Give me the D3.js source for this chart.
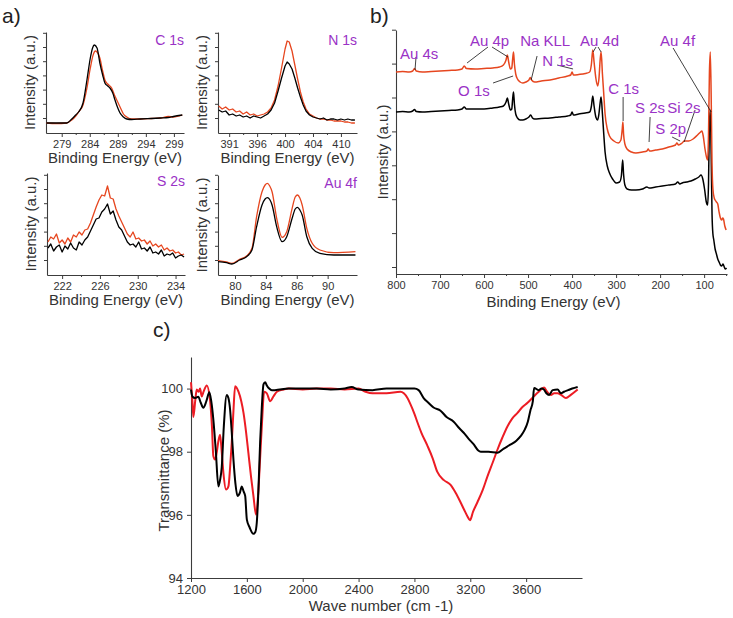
<!DOCTYPE html>
<html><head><meta charset="utf-8">
<script src="https://cdn.jsdelivr.net/npm/d3@7"></script>
<style>
body{margin:0;background:#fff;}
svg text{font-family:"Liberation Sans",Arial,Helvetica,sans-serif;}
</style></head><body>
<svg id="chart" width="733" height="618"></svg>
<script>
// ---------------- DATA ----------------
// a) C 1s
const c1sEnergyBlack = [276.3,278,279.9,280.8,281.5,282,282.8,283.5,284.1,284.5,284.8,285.3,285.8,286.3,286.7,287.2,287.6,288.1,288.5,289,289.4,290,290.6,291.5,293,295,296.6,298,298.9,300.5];
const c1sBlack       = [10,10,10,14,18,21,30,53,75,85,88,85,70,58,50,47,45,40,33,25,20,16,14,13.5,14,14.5,15,15.5,16.5,18];
const c1sEnergyRed   = [276.3,278,279.9,280.8,281.5,282,282.8,283.5,284.1,284.6,285.0,285.3,285.8,286.3,286.7,287.2,287.9,288.4,288.9,289.4,290,290.6,291.5,293,295,296.6,298,298.9,300.5];
const c1sRed         = [10,9.5,10,13,17,21,28,45,65,78,82,81,75,62,53,49,45,38,32,26,19,16,14,14,14.5,15,16.5,16,18];
const c1sTicks = [279,284,289,294,299];
const c1sTickLabels = ["279","284","289","294","299"];

// a) N 1s
const n1sEnergy = [390.5,391,391.5,392,392.5,393,393.5,394,394.5,395,395.5,396,396.5,397,397.5,398,398.5,399,399.5,400,400.3,400.6,401,401.4,401.8,402.2,402.6,403,403.5,404,404.5,405,405.5,406,406.5,407,407.5,408,408.5,409,409.5,410];
const n1sBlack  = [23,21,22,18,19,17,18,16,17,15,17,16,15,17,19,23,30,42,55,67,71,69,64,55,45,36,28,22,18,16,15,14,15,13,14,14,13,14,13,14,13,13];
const n1sRed    = [27,24,26,23,24,21,22,19,21,18,19,17,18,19,21,25,33,47,65,84,92,91,82,68,54,41,31,24,19,17,15,14,14,13,13,12,12,12,11,11,10,10];
const n1sTicks = [392,396,400,404,408];
const n1sTickLabels = ["391","396","400","404","410"];

// a) S 2s
const s2sEnergy = [220.5,220.8,221.1,221.4,221.7,222.0,222.3,222.6,222.9,223.2,223.5,223.8,224.1,224.4,224.7,225.0,225.3,225.6,225.9,226.2,226.5,226.8,227.1,227.4,227.7,228.0,228.3,228.6,228.9,229.2,229.5,229.8,230.1,230.4,230.7,231.0,231.3,231.6,231.9,232.2,232.5,232.8,233.1,233.4,233.7,234.0,234.3,234.6,234.9];
const s2sBlack  = [27,31,24,28,30,23,29,26,32,27,25,33,30,35,38,44,50,56,57,63,66,71,61,64,55,48,45,39,33,30,31,28,33,26,27,24,28,22,23,21,25,19,21,20,22,17,19,20,18];
const s2sRed    = [33,38,36,41,32,35,31,37,33,40,38,43,40,45,46,52,60,68,75,80,79,89,77,76,66,59,53,47,41,38,43,36,37,34,35,31,34,29,31,28,30,25,27,24,25,22,23,20,21];
const s2sTicks = [222,226,230,234];
const s2sTickLabels = ["222","226","230","234"];

// a) Au 4f
const au4fEnergy = [77.8,78.9,79.6,80.6,81.5,82.2,82.8,83.5,83.9,84.2,84.5,84.8,85.4,86.1,86.7,87.4,87.8,88.1,88.4,88.7,89.3,90,91,92.8,95.6];
const au4fBlack  = [13.3,12.3,11,15,18.3,25,48.3,70,76,77.3,75.5,70,48.3,33.3,38.3,56.7,66,67.7,65,60,38.3,26.7,21.7,20,20];
const au4fRed    = [14.3,13,11.7,15.7,19,26.7,58.3,83.3,90,91.7,89,83.3,56.7,37.7,43.3,66.7,78,80,77,70,46.7,31.7,25,22.3,23.3];
const au4fTicks = [80,84,88,92];
const au4fTickLabels = ["80","84","86","90"];

// b) survey spectra  [binding energy, intensity]
const surveyRed = [[800,202],[785,202.5],[770,202],[762,203],[758,205.5],[754,203],[740,202],[720,202.5],[700,203],[680,203.5],[660,204],[650,205],[645,208],[640,205.5],[620,205],[600,205.5],[580,206],[565,207],[556,209],[550,214],[547,219],[544,212],[540,205],[537,206],[535,215],[533,222],[531,210],[528,200],[524,195],[518,192],[512,191],[505,192],[498,194],[495,196.5],[492,194],[485,192],[470,193],[450,194],[430,196],[410,198],[403,199],[400,202],[397,199],[385,199.5],[370,200.5],[360,202],[356,210],[353,224],[350,212],[346,196],[342,188],[339,195],[336,215],[334,222],[331,200],[328,180],[325,160],[320,145],[315,138],[305,133],[295,131],[289,134],[286,145],[284.5,152],[283,140],[280,130],[275,125],[265,122],[255,121],[240,122],[230,123],[227,125],[224,123],[210,124],[195,125],[180,127],[165,129],[162,131],[158,129],[150,131],[145,133],[135,133],[125,135],[115,139],[108,142],[105,143],[102,138],[98,125],[94,116],[92,114],[90,140],[88,200],[86,222],[84,180],[82,110],[80,85],[77,76],[75,74],[72,72],[69,70],[66,62],[63,56],[60,54],[58,56],[56,55],[53,48],[50,44]];
const surveyBlack = [[800,162],[785,162.5],[770,162],[762,163],[758,164.5],[754,162.5],[740,162],[720,162.5],[700,163],[680,163.5],[660,164],[650,165],[645,167],[640,165],[620,165],[600,165],[580,166],[565,167],[556,168],[550,172],[547,176],[544,170],[540,164],[537,165],[535,175],[533,182],[531,170],[528,160],[524,156],[518,154],[512,154],[505,155],[498,157],[494,159],[490,156],[485,155],[470,155.5],[450,156],[430,157],[410,158],[403,159],[400,162],[397,159],[385,160],[370,161],[360,162],[356,168],[353,178],[350,168],[346,157],[342,154],[339,160],[336,172],[334,177],[331,160],[328,140],[325,122],[320,108],[315,101],[308,95],[300,91],[292,92],[288,98],[285,114],[283,100],[280,89],[275,85],[265,84],[255,84],[240,85],[230,87],[225,86],[210,87],[195,88],[180,89],[165,90],[160,92],[155,90],[150,91],[140,92],[130,93],[120,95],[112,97],[107,99],[103,95],[99,85],[95,72],[92,69],[90,90],[88,150],[86,164],[84,120],[82,60],[80,40],[78,34],[75,25],[72,20],[69,15],[66,12],[63,9],[60,8],[57,10],[55,8],[52,5],[49,6]];
const surveyTicks = [800,700,600,500,400,300,200,100];
const surveyLabels = ["Au 4s","Au 4p","Na KLL","Au 4d","N 1s","O 1s","C 1s","S 2s","Si 2s","S 2p","Au 4f"];
// text anchor (E, I) for each label, and leader lines [E1,I1,E2,I2]
const surveyLabelAt = [[791,215],[632,228],[518,228],[382,228],[468,208],[659,178],[318,180],[257,161],[184,161],[211,140],[200,228]];
const surveyLeaders = [
  [[754.5,217,756.8,204]],
  [[591,227,638.6,211],[581.8,227,545.5,217]],
  [[479.5,218,493,194]],
  [[345.5,227,352.3,222],[341,227,334,222]],
  [[434,209,397.7,205]],
  [[579.5,191,534,198]],
  [[284,177,284,153]],
  [[222.7,157,225,132]],
  [[120.5,164,145.5,132]],
  [[172.7,137,154.5,133]],
  [[170.5,226,84,162]]
];

// c) FTIR
const irRed = [[1200,100.2],[1210,99.6],[1217,99.1],[1230,99.6],[1241,99.97],[1255,99.9],[1265,100.0],[1277,99.75],[1290,99.9],[1313,100.1],[1336,99.65],[1350,98.8],[1360,97.86],[1372,97.75],[1385,98.0],[1396,98.33],[1408,98.54],[1420,98.0],[1432,97.33],[1451,96.8],[1468,96.9],[1480,97.5],[1492,98.3],[1504,99.3],[1516,100.07],[1540,99.9],[1560,99.6],[1576,99.23],[1595,98.6],[1611,97.96],[1630,97.2],[1647,96.6],[1666,96.0],[1683,96.8],[1695,97.8],[1707,98.8],[1724,99.9],[1743,99.85],[1767,99.6],[1790,99.75],[1815,99.9],[1863,99.97],[1900,100.0],[2000,99.97],[2100,100.0],[2200,100.0],[2300,99.97],[2400,100.0],[2450,99.9],[2500,99.85],[2600,99.85],[2700,99.9],[2724,99.85],[2750,99.7],[2772,99.5],[2800,99.2],[2820,98.95],[2850,98.6],[2892,98.2],[2930,97.8],[2964,97.36],[3011,97.1],[3059,96.95],[3095,96.7],[3130,96.4],[3155,96.17],[3180,95.95],[3198,95.83],[3220,96.1],[3251,96.4],[3290,96.8],[3323,97.22],[3360,97.65],[3395,98.07],[3430,98.45],[3466,98.8],[3500,99.05],[3538,99.23],[3570,99.4],[3610,99.55],[3657,99.76],[3690,99.9],[3729,100.03],[3750,99.9],[3777,99.8],[3800,99.85],[3825,99.85],[3850,99.8],[3885,99.7],[3920,99.8],[3969,99.97]];
const irBlack = [[1200,99.97],[1210,99.75],[1230,99.7],[1252,99.74],[1270,99.55],[1288,99.39],[1310,99.6],[1331,99.88],[1345,99.6],[1360,99.02],[1378,98.0],[1396,96.9],[1408,97.1],[1420,97.5],[1435,98.8],[1456,99.8],[1468,99.7],[1480,99.33],[1492,98.6],[1504,97.75],[1518,97.0],[1533,96.6],[1550,96.7],[1564,96.9],[1576,96.75],[1588,96.6],[1600,95.85],[1620,95.6],[1647,95.4],[1660,95.45],[1671,95.75],[1683,96.8],[1695,98.3],[1707,99.4],[1719,100.13],[1731,100.2],[1743,100.1],[1760,100.0],[1779,99.95],[1800,99.95],[1900,100.0],[2000,100.0],[2100,100.0],[2200,99.97],[2300,100.0],[2350,100.05],[2400,99.97],[2500,99.95],[2600,100.0],[2700,100.0],[2800,100.0],[2830,99.95],[2866,99.7],[2900,99.55],[2937,99.4],[2987,99.3],[3030,99.1],[3081,98.95],[3120,98.75],[3153,98.6],[3190,98.4],[3225,98.23],[3255,98.05],[3275,98.0],[3330,98.0],[3396,97.97],[3440,98.1],[3490,98.23],[3530,98.35],[3562,98.5],[3590,98.7],[3612,98.95],[3630,99.3],[3648,99.6],[3657,100.02],[3690,99.95],[3710,100.0],[3727,99.97],[3745,99.85],[3765,99.8],[3790,99.95],[3825,99.97],[3850,99.85],[3871,99.9],[3900,99.95],[3930,100.0],[3969,100.05]];
const irXTicks = [1200,1600,2000,2400,2800,3200,3600];
const irYTicks = [94,96,98,100];

// ---------------- DRAWING ----------------
const FONT = '"Liberation Sans", Arial, Helvetica, sans-serif';
const AX = "#3c3c3c";
const TXT = "#333";
const PURPLE = "#9a32c6";
const XPS_RED = "#e6461f";
const IR_RED = "#ec1c24";
const svg = d3.select("#chart");

function styleAxis(g, fs){
  g.attr("font-family", FONT);
  g.selectAll("path.domain").attr("stroke", AX).attr("stroke-width", 1.1);
  g.selectAll(".tick line").attr("stroke", AX);
  g.selectAll("text").attr("font-size", fs).attr("fill", TXT);
}

function xpsPanel(cfg){
  const x = d3.scaleLinear().domain(cfg.xDomain).range([cfg.left, cfg.right]);
  const y = d3.scaleLinear().domain(cfg.yDomain).range([cfg.bottom, cfg.top]);
  const g = svg.append("g");
  const minor = [];
  for (let i = 0; i < cfg.ticks.length - 1; i++) minor.push((cfg.ticks[i] + cfg.ticks[i+1]) / 2);
  g.append("g").attr("transform", `translate(0,${cfg.bottom})`)
    .call(d3.axisBottom(x).tickValues(minor).tickFormat("").tickSize(2).tickSizeOuter(0))
    .call(s => s.select(".domain").remove()).call(s => styleAxis(s, 11));
  g.append("g").attr("transform", `translate(0,${cfg.bottom})`)
    .call(d3.axisBottom(x).tickValues(cfg.ticks).tickFormat((d,i) => cfg.labels[i]).tickSize(4).tickSizeOuter(0).tickPadding(3))
    .call(s => styleAxis(s, 11));
  g.append("g").attr("transform", `translate(${cfg.left},0)`)
    .call(d3.axisLeft(y).tickValues(d3.range(cfg.yDomain[0] + 15, cfg.yDomain[1] + 0.5, 14.2)).tickFormat("").tickSize(3).tickSizeOuter(0))
    .call(s => styleAxis(s, 11));
  const curve = cfg.noisy ? d3.curveLinear : d3.curveMonotoneX;
  cfg.series.forEach(sr => {
    const pts = sr.e.map((e,i) => [e, sr.v[i]]);
    g.append("path").datum(pts)
      .attr("fill", "none").attr("stroke", sr.color).attr("stroke-width", 1.3)
      .attr("stroke-linejoin", "round")
      .attr("d", d3.line().x(d => x(d[0])).y(d => y(d[1])).curve(curve));
  });
  g.append("text").attr("x", cfg.right).attr("y", cfg.top + 13).attr("text-anchor", "end")
    .attr("font-size", 14).attr("fill", PURPLE).attr("font-family", FONT).text(cfg.title);
  g.append("text").attr("x", (cfg.left + cfg.right) / 2).attr("y", cfg.bottom + 30)
    .attr("text-anchor", "middle").attr("font-size", 15).attr("fill", TXT).attr("font-family", FONT)
    .text("Binding Energy (eV)");
  g.append("text").attr("transform", `translate(${cfg.left - 11},${(cfg.top + cfg.bottom) / 2}) rotate(-90)`)
    .attr("text-anchor", "middle").attr("font-size", 15).attr("fill", TXT).attr("font-family", FONT)
    .text("Intensity (a.u.)");
}

// panel labels
svg.append("text").attr("x", 2).attr("y", 23).attr("font-size", 21).attr("fill", "#222").attr("font-family", FONT).text("a)");
svg.append("text").attr("x", 370).attr("y", 23).attr("font-size", 21).attr("fill", "#222").attr("font-family", FONT).text("b)");
svg.append("text").attr("x", 153).attr("y", 337).attr("font-size", 21).attr("fill", "#222").attr("font-family", FONT).text("c)");

xpsPanel({left:46, right:184, top:32, bottom:133, xDomain:[276.2,300.8], yDomain:[0,101],
  ticks:c1sTicks, labels:c1sTickLabels, title:"C 1s",
  series:[{e:c1sEnergyRed, v:c1sRed, color:XPS_RED},{e:c1sEnergyBlack, v:c1sBlack, color:"#000"}]});
xpsPanel({left:218, right:357, top:32, bottom:133, xDomain:[390.4,410.3], yDomain:[0,101],
  ticks:n1sTicks, labels:n1sTickLabels, title:"N 1s", noisy:true,
  series:[{e:n1sEnergy, v:n1sRed, color:XPS_RED},{e:n1sEnergy, v:n1sBlack, color:"#000"}]});
xpsPanel({left:47, right:185, top:173, bottom:275, xDomain:[220.4,235], yDomain:[0,102],
  ticks:s2sTicks, labels:s2sTickLabels, title:"S 2s", noisy:true,
  series:[{e:s2sEnergy, v:s2sRed, color:XPS_RED},{e:s2sEnergy, v:s2sBlack, color:"#000"}]});
xpsPanel({left:218, right:357, top:175, bottom:275, xDomain:[77.8,95.8], yDomain:[0,100],
  ticks:au4fTicks, labels:au4fTickLabels, title:"Au 4f",
  series:[{e:au4fEnergy, v:au4fRed, color:XPS_RED},{e:au4fEnergy, v:au4fBlack, color:"#000"}]});

// ---- b) survey ----
(function(){
  const L = 396, R = 727, T = 30, B = 274;
  const x = d3.scaleLinear().domain([800,48]).range([L,R]);
  const y = d3.scaleLinear().domain([0,244]).range([B,T]);
  const g = svg.append("g");
  const minor = surveyTicks.map(t => t - 50).filter(t => t > 48);
  g.append("g").attr("transform", `translate(0,${B})`)
    .call(d3.axisBottom(x).tickValues(minor).tickFormat("").tickSize(2).tickSizeOuter(0))
    .call(s => s.select(".domain").remove()).call(s => styleAxis(s, 11));
  g.append("g").attr("transform", `translate(0,${B})`)
    .call(d3.axisBottom(x).tickValues(surveyTicks).tickFormat(d3.format("d")).tickSize(4).tickSizeOuter(0).tickPadding(3))
    .call(s => styleAxis(s, 11));
  g.append("g").attr("transform", `translate(${L},0)`)
    .call(d3.axisLeft(y).tickValues(d3.range(7, 245, 33.9)).tickFormat("").tickSize(4).tickSizeOuter(0))
    .call(s => styleAxis(s, 11));
  const line = d3.line().x(d => x(d[0])).y(d => y(d[1])).curve(d3.curveMonotoneX);
  g.append("path").datum(surveyBlack).attr("fill","none").attr("stroke","#000").attr("stroke-width",1.5).attr("d", line);
  g.append("path").datum(surveyRed).attr("fill","none").attr("stroke",XPS_RED).attr("stroke-width",1.5).attr("d", line);
  surveyLeaders.forEach(ls => ls.forEach(l => {
    g.append("line").attr("x1", x(l[0])).attr("y1", y(l[1])).attr("x2", x(l[2])).attr("y2", y(l[3]))
      .attr("stroke", "#111").attr("stroke-width", 0.8);
  }));
  surveyLabels.forEach((t,i) => {
    g.append("text").attr("x", x(surveyLabelAt[i][0])).attr("y", y(surveyLabelAt[i][1]))
      .attr("font-size", 15).attr("fill", PURPLE).attr("font-family", FONT).text(t);
  });
  g.append("text").attr("x", (L + R) / 2 - 8).attr("y", B + 33).attr("text-anchor","middle")
    .attr("font-size", 15).attr("fill", TXT).attr("font-family", FONT).text("Binding Energy (eV)");
  g.append("text").attr("transform", `translate(${L - 8},152) rotate(-90)`)
    .attr("text-anchor","middle").attr("font-size", 15).attr("fill", TXT).attr("font-family", FONT).text("Intensity (a.u.)");
})();

// ---- c) FTIR ----
(function(){
  const L = 191, R = 582, T = 357, B = 578;
  const x = d3.scaleLinear().domain([1200,4000]).range([L,R]);
  const y = d3.scaleLinear().domain([94,101]).range([B,T]);
  const g = svg.append("g");
  g.append("g").attr("transform", `translate(0,${B})`)
    .call(d3.axisBottom(x).tickValues(irXTicks).tickFormat(d3.format("d")).tickSize(4).tickSizeOuter(0).tickPadding(3))
    .call(s => styleAxis(s, 13));
  g.append("g").attr("transform", `translate(${L},0)`)
    .call(d3.axisLeft(y).tickValues(irYTicks).tickFormat(d3.format("d")).tickSize(4).tickSizeOuter(0).tickPadding(4))
    .call(s => styleAxis(s, 13));
  const line = d3.line().x(d => x(d[0])).y(d => y(d[1])).curve(d3.curveMonotoneX);
  g.append("path").datum(irRed).attr("fill","none").attr("stroke",IR_RED).attr("stroke-width",2).attr("d", line);
  g.append("path").datum(irBlack).attr("fill","none").attr("stroke","#000").attr("stroke-width",2).attr("d", line);
  g.append("text").attr("x", 381).attr("y", 611).attr("text-anchor","middle")
    .attr("font-size", 15).attr("fill", TXT).attr("font-family", FONT).text("Wave number (cm -1)");
  g.append("text").attr("transform", `translate(169,${(T + B) / 2 + 3}) rotate(-90)`)
    .attr("text-anchor","middle").attr("font-size", 15).attr("fill", TXT).attr("font-family", FONT).text("Transmittance (%)");
})();
</script>
</body></html>
